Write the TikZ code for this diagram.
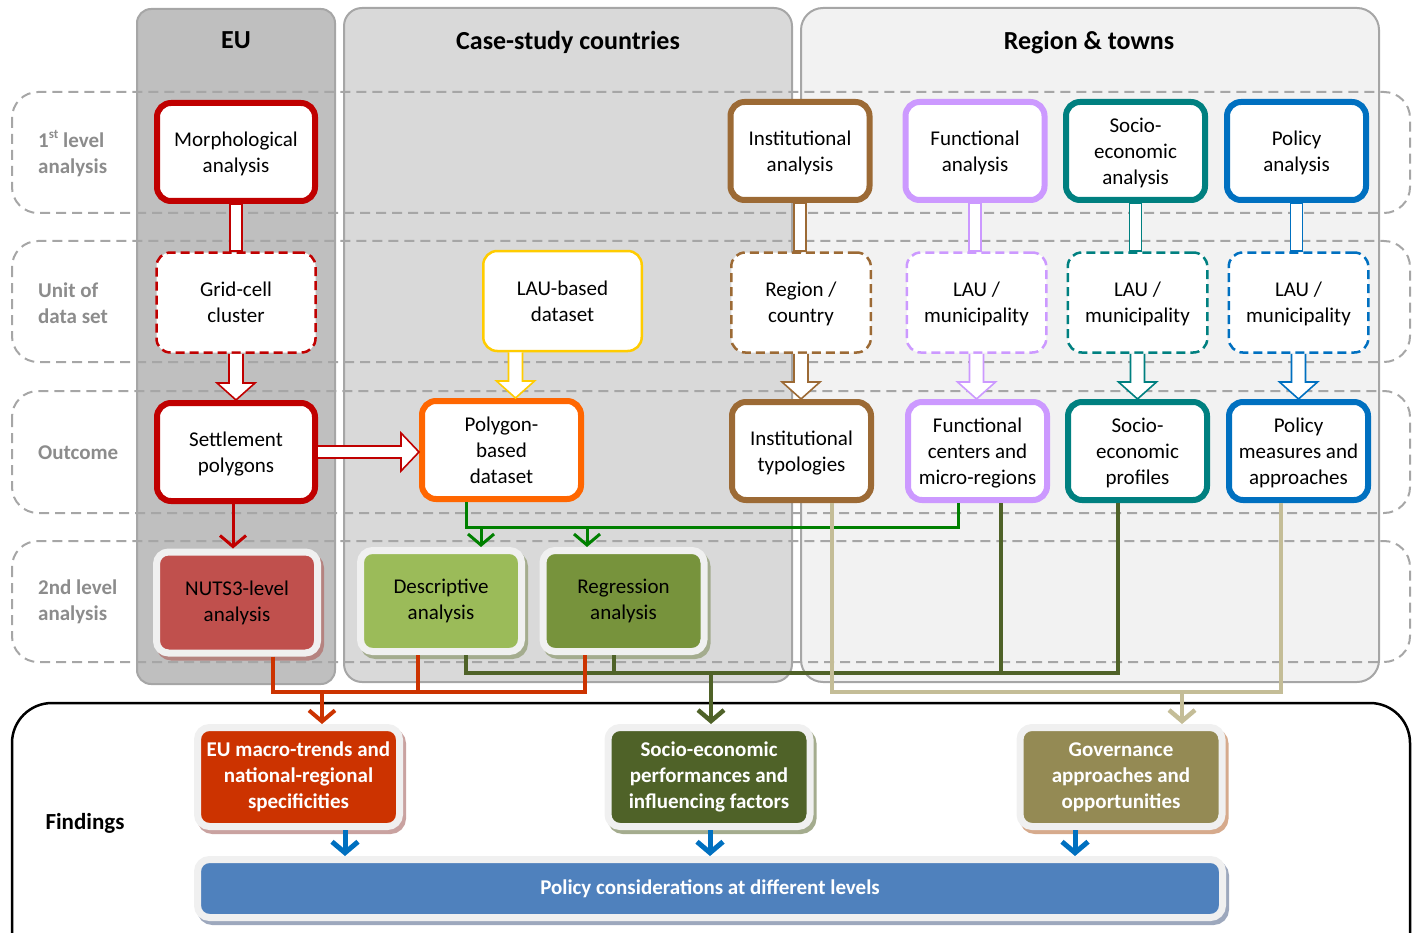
\documentclass[tikz,border=0pt]{standalone}
\usepackage{fontspec}
\setmainfont{Carlito}
\usetikzlibrary{arrows.meta,calc,shadows}
\definecolor{cRed}{HTML}{C00000}
\definecolor{cBrown}{HTML}{9C6A35}
\definecolor{cLilac}{HTML}{CC99FF}
\definecolor{cTeal}{HTML}{008080}
\definecolor{cBlue}{HTML}{0070C0}
\definecolor{cYellow}{HTML}{FFCC00}
\definecolor{cOrange}{HTML}{FF6600}
\definecolor{cNuts}{HTML}{C0504D}
\definecolor{cDesc}{HTML}{9BBB59}
\definecolor{cReg}{HTML}{77933C}
\definecolor{cEUf}{HTML}{CC3300}
\definecolor{cSoc}{HTML}{4F6228}
\definecolor{cGov}{HTML}{948A54}
\definecolor{cPol}{HTML}{4F81BD}
\definecolor{cGreen}{HTML}{008000}
\definecolor{cTan}{HTML}{C4BD97}
\definecolor{cLab}{HTML}{8C8C8C}
\definecolor{cHalo}{HTML}{F0F0F0}
\definecolor{cBand}{HTML}{A6A6A6}
\definecolor{pEU}{HTML}{BFBFBF}
\definecolor{pCS}{HTML}{D9D9D9}
\definecolor{pRT}{HTML}{F2F2F2}
\definecolor{pEdge}{HTML}{A6A6A6}
\definecolor{sNuts}{HTML}{B58380}
\definecolor{sGreen}{HTML}{A4AC8E}
\definecolor{sEU}{HTML}{C9A2A0}
\definecolor{sGov}{HTML}{D6AA8C}
\definecolor{sPol}{HTML}{9DA8BD}

\newcommand\hollowbar[3]{\draw[#3,line width=1.6pt,fill=white] let \p1=(#1),\p2=(#2) in (\x1-6pt,\y1) rectangle (\x1+6pt,\y2);}
\newcommand\hollowdown[3]{\draw[#3,line width=1.6pt,fill=white,line join=miter] let \p1=(#1),\p2=(#2) in (\x1-7pt,\y1) -- (\x1-7pt,\y2+17pt) -- (\x1-19pt,\y2+17pt) -- (\x1,\y2) -- (\x1+19pt,\y2+17pt) -- (\x1+7pt,\y2+17pt) -- (\x1+7pt,\y1);}
\newcommand\hollowright[3]{\draw[#3,line width=1.6pt,fill=white,line join=miter] let \p1=(#1),\p2=(#2) in (\x1,\y1+6pt) -- (\x2-18pt,\y1+6pt) -- (\x2-18pt,\y1+19pt) -- (\x2,\y1) -- (\x2-18pt,\y1-19pt) -- (\x2-18pt,\y1-6pt) -- (\x1,\y1-6pt);}

\begin{document}
\begin{tikzpicture}[x=1pt,y=-1pt,
  font=\fontsize{21}{26}\selectfont,
  panel/.style={fill=#1, draw=pEdge, line width=2pt, rounded corners=14pt},
  band/.style={draw=cBand, line width=2pt, dash pattern=on 10pt off 6pt, rounded corners=26pt},
  title/.style={font=\fontsize{26}{30}\selectfont\bfseries},
  rowlab/.style={text=cLab, font=\fontsize{21}{26}\selectfont\bfseries, align=left, anchor=west, inner sep=0pt},
  anabox/.style={draw=#1, line width=6pt, fill=white, rounded corners=14pt, align=center, inner sep=0pt, minimum width=139pt, minimum height=98pt, text depth=-4pt},
  unitbox/.style={draw=#1, line width=2.5pt, fill=white, rounded corners=14pt, align=center, inner sep=0pt, minimum width=139.5pt, minimum height=100pt, text depth=-4pt},
  dunit/.style={unitbox=#1, dash pattern=on 9pt off 5pt},
  halobox/.style={fill=#1, draw=cHalo, line width=7pt, rounded corners=12pt, align=center, inner sep=0pt, minimum width=161pt, minimum height=101pt},
  shadowed/.style={general shadow={fill=#1, draw=#1, line width=7pt, shadow xshift=3pt, shadow yshift=-4pt}},
  findbox/.style={halobox=#1, text=white, font=\fontsize{21}{26}\selectfont\bfseries, minimum width=202pt, minimum height=99pt},
  varrow/.style={-{Straight Barb[length=11pt,width=26pt]}},
  gline/.style={draw=cGreen, line width=3pt},
  rline/.style={draw=cEUf, line width=4pt},
  oline/.style={draw=cSoc, line width=4.5pt},
  tline/.style={draw=cTan, line width=4.5pt},
  bline/.style={draw=cBlue, line width=5pt},
  dline/.style={draw=cRed, line width=3pt}
]
\useasboundingbox (0,0) rectangle (1420,933);
\clip (0,0) rectangle (1420,933);

% column panels
\draw[panel=pEU] (137,9) rectangle (335,684);
\draw[panel=pCS, rounded corners=18pt] (344,8) rectangle (792,682);
\draw[panel=pRT, rounded corners=22pt] (801,8) rectangle (1379,682);
\node[title] (tEU) at (236,40) {EU};
\node[title] (tCS) at (568,42) {Case-study countries};
\node[title] (tRT) at (1089,43) {Region \& towns};

% row bands
\draw[band] (12,92) rectangle (1410,213);
\draw[band] (12,241) rectangle (1410,362);
\draw[band] (12,391) rectangle (1410,513);
\draw[band] (12,541) rectangle (1410,662);

\node[rowlab] (l1) at (38,154) {1\raisebox{9pt}{\fontsize{13}{13}\selectfont st} level\\analysis};
\node[rowlab] (l2) at (38,303) {Unit of\\data set};
\node[rowlab] (l3) at (38,453) {Outcome};
\node[rowlab] (l4) at (38,602) {2nd level\\analysis};

% findings frame
\draw[black, line width=2.5pt, rounded corners=40pt] (12,703) rectangle (1410,1010);
\node[font=\fontsize{23}{28}\selectfont\bfseries, inner sep=0pt] (find) at (85,823) {Findings};

% row 1
\node[anabox=cRed, minimum width=158pt] (morph) at (236,152) {Morphological\\analysis};
\node[anabox=cBrown] (inst) at (800,151) {Institutional\\analysis};
\node[anabox=cLilac] (func) at (975,151) {Functional\\analysis};
\node[anabox=cTeal] (seco) at (1135.5,151) {Socio-\\economic\\analysis};
\node[anabox=cBlue] (pana) at (1296.5,151) {Policy\\analysis};

% row 2
\node[dunit=cRed, minimum width=159pt] (grid) at (236,302.5) {Grid-cell\\cluster};
\node[unitbox=cYellow, minimum width=158.5pt] (lau) at (562.5,301) {LAU-based\\dataset};
\node[dunit=cBrown] (regc) at (801,302.5) {Region /\\country};
\node[dunit=cLilac] (lau1) at (976.5,302.5) {LAU /\\municipality};
\node[dunit=cTeal] (lau2) at (1137.5,302.5) {LAU /\\municipality};
\node[dunit=cBlue] (lau3) at (1298.5,302.5) {LAU /\\municipality};

% row 3
\node[anabox=cRed, minimum width=158pt] (settle) at (236,452) {Settlement\\polygons};
\node[anabox=cOrange, minimum width=159pt] (poly) at (501.5,450) {Polygon-\\based\\dataset};
\node[anabox=cBrown] (itypo) at (801.5,451) {Institutional\\typologies};
\node[anabox=cLilac] (fcent) at (977.5,451) {Functional\\centers and\\micro-regions};
\node[anabox=cTeal] (sprof) at (1137.5,451) {Socio-\\economic\\profiles};
\node[anabox=cBlue] (pmeas) at (1298.5,451) {Policy\\measures and\\approaches};

% row 4
\node[halobox=cNuts, shadowed=sNuts] (nuts) at (237,602.5) {NUTS3-level\\analysis};
\node[halobox=cDesc, shadowed=sGreen] (desc) at (441,601) {Descriptive\\analysis};
\node[halobox=cReg, shadowed=sGreen] (reg) at (623.5,601) {Regression\\analysis};

% findings
\node[findbox=cEUf, shadowed=sEU] (euf) at (298.5,777) {EU macro-trends and\\national-regional\\specificities};
\node[findbox=cSoc, shadowed=sGreen] (socf) at (709,777) {Socio-economic\\performances and\\influencing factors};
\node[findbox=cGov, shadowed=sGov] (govf) at (1121,777) {Governance\\approaches and\\opportunities};
\node[halobox=cPol, shadowed=sPol, text=white, font=\fontsize{21}{26}\selectfont\bfseries, minimum width=1025pt, minimum height=58pt] (polf) at (710,888.5) {Policy considerations at different levels};

% hollow connectors
\hollowbar{morph.south}{grid.north}{cRed}
\hollowbar{inst.south}{regc.north}{cBrown}
\hollowbar{func.south}{lau1.north}{cLilac}
\hollowbar{seco.south}{lau2.north}{cTeal}
\hollowbar{pana.south}{lau3.north}{cBlue}
\hollowdown{grid.south}{settle.north}{cRed}
\hollowdown{[xshift=-47pt]lau.south}{poly.north}{cYellow}
\hollowdown{regc.south}{itypo.north}{cBrown}
\hollowdown{lau1.south}{fcent.north}{cLilac}
\hollowdown{lau2.south}{sprof.north}{cTeal}
\hollowdown{lau3.south}{pmeas.north}{cBlue}
\hollowright{settle.east}{poly.west}{cRed}

% settlement -> NUTS3
\coordinate (dA) at (233,520);
\draw[dline, varrow] (dA |- settle.south) -- (dA |- nuts.north);

% green
\coordinate (gR) at (958,527);
\coordinate (gL) at (466,527);
\coordinate (ga1) at (481,527);
\coordinate (ga2) at (587,527);
\draw[gline] (gL |- poly.south) -- (gL) -- (gR) -- (gR |- fcent.south);
\draw[gline, varrow] (ga1) -- (ga1 |- desc.north);
\draw[gline, varrow] (ga2) -- (ga2 |- reg.north);

% olive
\coordinate (oA) at (466,673);
\coordinate (oB) at (614,673);
\coordinate (oC) at (1001,673);
\coordinate (oD) at (1118,673);
\coordinate (oE) at (711,673);
\draw[oline] (oA |- desc.south) -- (oA) -- (oD) -- (oD |- sprof.south);
\draw[oline] (oB |- reg.south) -- (oB);
\draw[oline] (oC |- fcent.south) -- (oC);
\draw[oline, varrow] (oE) -- (oE |- socf.north);

% red-orange
\coordinate (rL) at (273,692);
\coordinate (rD) at (418,692);
\coordinate (rR) at (585,692);
\coordinate (rX) at (322,692);
\draw[rline] (rL |- nuts.south) -- (rL) -- (rR) -- (rR |- reg.south);
\draw[rline] (rD |- desc.south) -- (rD);
\draw[rline, varrow] (rX) -- (rX |- euf.north);

% tan
\coordinate (tA) at (832,692);
\coordinate (tB) at (1281,692);
\coordinate (tC) at (1182,692);
\draw[tline] (tA |- itypo.south) -- (tA) -- (tB) -- (tB |- pmeas.south);
\draw[tline, varrow] (tC) -- (tC |- govf.north);

% blue
\coordinate (bA) at (345,840);
\coordinate (bB) at (710,840);
\coordinate (bC) at (1075,840);
\draw[bline, varrow] (bA |- euf.south) -- (bA |- polf.north);
\draw[bline, varrow] (bB |- socf.south) -- (bB |- polf.north);
\draw[bline, varrow] (bC |- govf.south) -- (bC |- polf.north);
\end{tikzpicture}
\end{document}
